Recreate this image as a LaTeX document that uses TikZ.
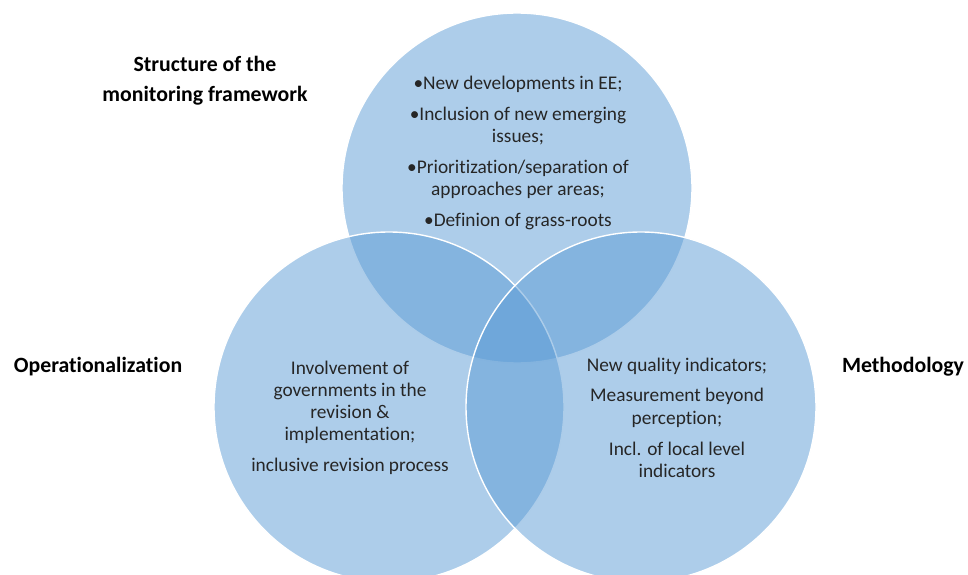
\documentclass[tikz,border=0pt]{standalone}
\usepackage{fontspec}
\setmainfont{Carlito}[Ligatures=NoCommon]
\definecolor{vennblue}{HTML}{5B9BD5}
\begin{document}
\begin{tikzpicture}[
    every node/.style={align=center, inner sep=0pt},
    set/.style={circle, fill=vennblue, fill opacity=0.5, draw=white,
        line width=0.8pt, minimum size=7cm},
    heading/.style={font=\bfseries\fontsize{12.4}{17}\selectfont},
    item/.style={font=\fontsize{11}{12.6}\selectfont, text=black!85}]

\useasboundingbox (0,0) rectangle (19.36,11.48);

%========================
% The three sets
%========================
\node[set] (frame) at (10.34,7.72) {};
\node[set] (oper)  at (7.78,3.34) {};
\node[set] (meth)  at (12.82,3.34) {};

% Set names
\node[heading] (frametitle) at (4.1,9.86) {Structure of the\\monitoring framework};
\node[heading] (opertitle) at (1.96,4.14) {Operationalization};
\node[heading] (methtitle) at (18.06,4.14) {Methodology};

%========================
% Contents of each set
%========================
\node[item] (frameitems) at (10.36,8.42)
    {•New developments in EE;\\[5pt]
     •Inclusion of new emerging\\issues;\\[5pt]
     •Prioritization/separation of\\approaches per areas;\\[5pt]
     •Definion of grass-roots};

\node[item] (operitems) at (7.0,3.12)
    {Involvement of\\governments in the\\revision \&\\implementation;\\[5pt]
     inclusive revision process};

\node[item] (methitems) at (13.54,3.13)
    {New quality indicators;\\[5pt]
     Measurement beyond\\perception;\\[5pt]
     Incl. of local level\\indicators};

\end{tikzpicture}
\end{document}
